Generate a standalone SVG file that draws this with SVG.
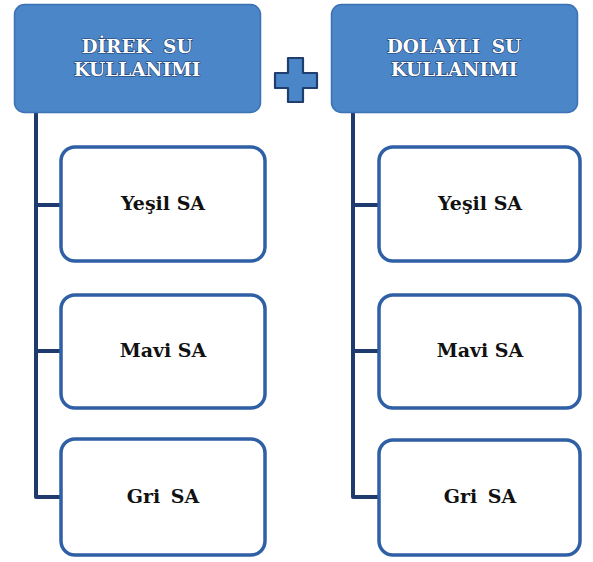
<svg xmlns="http://www.w3.org/2000/svg" width="593" height="562" viewBox="0 0 593 562">
<style>
.hdr{fill:#4a86c8;stroke:#3d72b4;stroke-width:1.5}
.ht{font-family:'DejaVu Serif',serif;font-size:18.5px;font-weight:bold;fill:#ffffff;stroke:#1f3e6e;stroke-width:1.2;paint-order:stroke fill;text-anchor:middle;word-spacing:5px}
.box{fill:#ffffff;stroke:#2f5fa5;stroke-width:3.5}
.ct{font-family:'DejaVu Serif',serif;font-size:19px;font-weight:bold;fill:#111111;text-anchor:middle}
.conn{fill:none;stroke:#1f3a6e;stroke-width:4;stroke-linejoin:round}
</style>
<rect width="593" height="562" fill="#ffffff"/>
<g id="connectors">
<path class="conn" d="M36,113 V497 H61 M36,205 H61 M36,351 H61"/>
<path class="conn" d="M353,113 V497 H379 M353,205 H379 M353,351 H379"/>
</g>
<g id="direk">
<rect class="hdr" x="14.5" y="4.5" width="246" height="108" rx="10"/>
<text class="ht" x="137" y="53">DİREK SU</text>
<text class="ht" x="137" y="76">KULLANIMI</text>
</g>
<g id="plus">
<path d="M288,58 H303 V73 H317 V88 H303 V102 H288 V88 H275 V73 H288 Z" fill="#4a86c8" stroke="#1f3e6e" stroke-width="2.2" stroke-linejoin="round"/>
</g>
<g id="dolayli">
<rect class="hdr" x="331.5" y="4.5" width="246" height="108" rx="10"/>
<text class="ht" x="454" y="53">DOLAYLI SU</text>
<text class="ht" x="454" y="76">KULLANIMI</text>
</g>
<g id="l1"><rect class="box" x="61" y="147" width="204" height="114" rx="14"/><text class="ct" x="163" y="210">Yeşil SA</text></g>
<g id="l2"><rect class="box" x="61" y="295" width="204" height="113" rx="14"/><text class="ct" x="163" y="357">Mavi SA</text></g>
<g id="l3"><rect class="box" x="61" y="439" width="204" height="116" rx="14"/><text class="ct" x="163" y="503" style="word-spacing:4px">Gri SA</text></g>
<g id="r1"><rect class="box" x="379" y="147" width="201" height="114" rx="14"/><text class="ct" x="480" y="210">Yeşil SA</text></g>
<g id="r2"><rect class="box" x="379" y="295" width="201" height="113" rx="14"/><text class="ct" x="480" y="357">Mavi SA</text></g>
<g id="r3"><rect class="box" x="379" y="440" width="201" height="115" rx="14"/><text class="ct" x="480" y="503" style="word-spacing:4px">Gri SA</text></g>
</svg>
